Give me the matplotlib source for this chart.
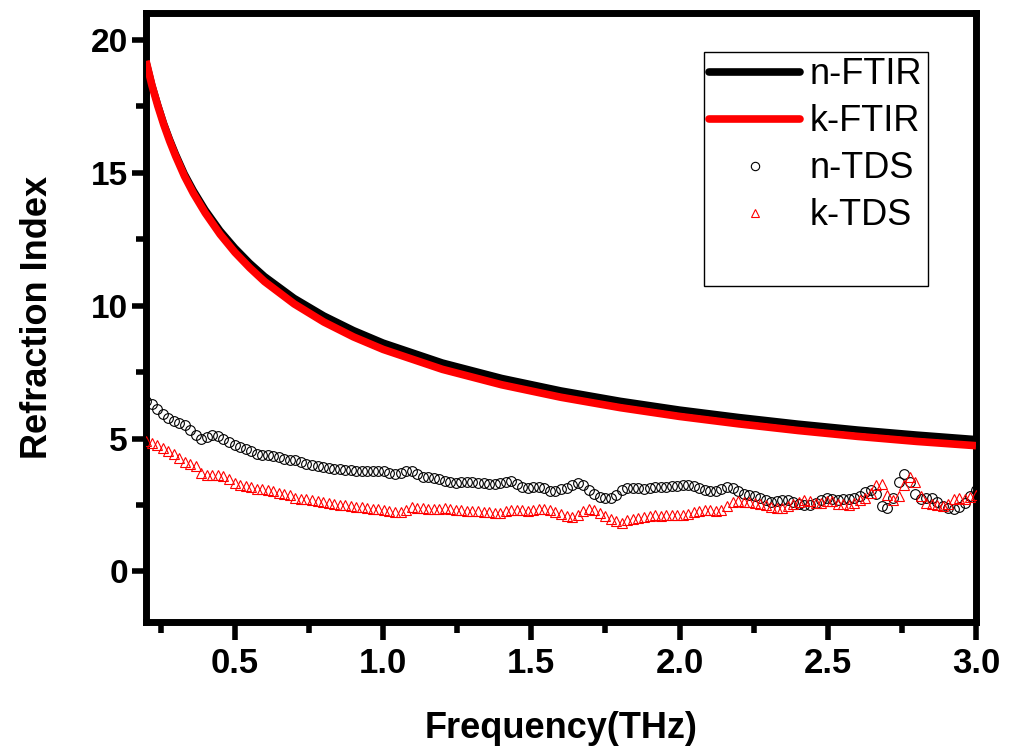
import numpy as np
import matplotlib
matplotlib.use("Agg")
import matplotlib.pyplot as plt
from matplotlib.lines import Line2D

plt.rcParams['font.family'] = ['Liberation Sans', 'DejaVu Sans']

# FTIR-derived optical constants (smooth curves)
ftir_freq = [0.20, 0.22, 0.24, 0.26, 0.28, 0.30, 0.33, 0.36, 0.40, 0.45, 0.50,
             0.55, 0.60, 0.70, 0.80, 0.90, 1.00, 1.20, 1.40, 1.60, 1.80, 2.00,
             2.20, 2.40, 2.60, 2.80, 3.00]
n_ftir = [19.20, 18.30, 17.55, 16.85, 16.25, 15.70, 14.95, 14.33, 13.60, 12.82,
          12.17, 11.60, 11.10, 10.28, 9.62, 9.07, 8.60, 7.85, 7.27, 6.80, 6.41,
          6.08, 5.80, 5.55, 5.33, 5.14, 4.97]
k_ftir = [19.20, 18.28, 17.50, 16.80, 16.18, 15.62, 14.86, 14.22, 13.48, 12.68,
          12.00, 11.42, 10.90, 10.06, 9.38, 8.82, 8.35, 7.60, 7.02, 6.55, 6.16,
          5.83, 5.55, 5.30, 5.08, 4.89, 4.73]

# THz-TDS measurement: 151 samples, 0.2 - 3.0 THz
tds_start, tds_stop, tds_count = 0.2, 3.0, 151
n_tds = [
    6.42, 6.28, 6.12, 5.92, 5.78, 5.66, 5.58, 5.50, 5.33, 5.12,
    4.99, 5.06, 5.14, 5.09, 4.97, 4.86, 4.74, 4.67, 4.60, 4.52,
    4.42, 4.39, 4.39, 4.34, 4.30, 4.24, 4.21, 4.18, 4.12, 4.05,
    4.00, 3.96, 3.93, 3.90, 3.87, 3.85, 3.83, 3.81, 3.78, 3.78,
    3.78, 3.79, 3.79, 3.77, 3.70, 3.67, 3.70, 3.77, 3.76, 3.66,
    3.54, 3.55, 3.51, 3.47, 3.41, 3.35, 3.33, 3.35, 3.37, 3.37,
    3.33, 3.31, 3.30, 3.30, 3.31, 3.37, 3.40, 3.28, 3.18, 3.14,
    3.17, 3.18, 3.12, 3.04, 3.03, 3.10, 3.14, 3.25, 3.33, 3.25,
    3.07, 2.90, 2.81, 2.75, 2.76, 2.88, 3.05, 3.13, 3.14, 3.13,
    3.11, 3.14, 3.17, 3.18, 3.18, 3.20, 3.23, 3.26, 3.26, 3.20,
    3.14, 3.08, 3.03, 3.04, 3.09, 3.16, 3.13, 3.02, 2.92, 2.88,
    2.84, 2.78, 2.69, 2.63, 2.64, 2.69, 2.69, 2.63, 2.55, 2.49,
    2.49, 2.57, 2.69, 2.76, 2.72, 2.69, 2.71, 2.73, 2.77, 2.82,
    2.99, 3.08, 2.90, 2.46, 2.39, 2.75, 3.35, 3.67, 3.35, 2.90,
    2.71, 2.76, 2.77, 2.60, 2.48, 2.39, 2.36, 2.42, 2.56, 2.83,
    3.05]
k_tds = [
    4.92, 4.82, 4.77, 4.66, 4.54, 4.42, 4.28, 4.11, 4.04, 3.98,
    3.72, 3.63, 3.63, 3.63, 3.60, 3.46, 3.34, 3.25, 3.21, 3.17,
    3.10, 3.10, 3.07, 3.02, 2.96, 2.91, 2.86, 2.78, 2.73, 2.72,
    2.69, 2.65, 2.60, 2.56, 2.53, 2.50, 2.50, 2.48, 2.44, 2.41,
    2.38, 2.35, 2.35, 2.32, 2.27, 2.22, 2.23, 2.32, 2.42, 2.40,
    2.39, 2.35, 2.35, 2.35, 2.37, 2.35, 2.31, 2.31, 2.28, 2.28,
    2.26, 2.24, 2.23, 2.20, 2.20, 2.28, 2.33, 2.33, 2.30, 2.28,
    2.31, 2.34, 2.35, 2.30, 2.22, 2.15, 2.10, 2.06, 2.13, 2.28,
    2.35, 2.30, 2.18, 2.08, 1.97, 1.88, 1.83, 1.92, 1.98, 2.02,
    2.06, 2.09, 2.12, 2.10, 2.11, 2.13, 2.13, 2.13, 2.17, 2.22,
    2.28, 2.31, 2.30, 2.26, 2.32, 2.47, 2.60, 2.65, 2.62, 2.62,
    2.58, 2.55, 2.50, 2.44, 2.37, 2.38, 2.45, 2.53, 2.60, 2.67,
    2.66, 2.58, 2.58, 2.66, 2.65, 2.54, 2.53, 2.50, 2.56, 2.69,
    2.76, 2.95, 3.27, 3.28, 2.88, 2.70, 2.85, 3.25, 3.55, 3.35,
    2.85, 2.58, 2.52, 2.50, 2.47, 2.55, 2.72, 2.76, 2.74, 2.79,
    2.88]
tds_freq = np.linspace(tds_start, tds_stop, tds_count)

series_labels = ["n-FTIR", "k-FTIR", "n-TDS", "k-TDS"]

fig = plt.figure(figsize=(10.09, 7.51), dpi=100)
ax = fig.add_axes([146 / 1009, 1 - 622 / 751, 830 / 1009, 609 / 751])

ax.plot(ftir_freq, n_ftir, color="black", lw=5.0, solid_capstyle="butt", zorder=3)
ax.plot(ftir_freq, k_ftir, color="red", lw=5.5, solid_capstyle="butt", zorder=4)
ax.plot(tds_freq, n_tds, ls="none", marker="o", ms=7.0, mfc="none",
        mec="black", mew=0.8, zorder=5)
ax.plot(tds_freq, k_tds, ls="none", marker="^", ms=7.5, mfc="none",
        mec="red", mew=0.8, zorder=5)

ax.set_xlim(0.2, 3.0)
ax.set_ylim(-1.9, 21.0)
ax.set_xticks([0.5, 1.0, 1.5, 2.0, 2.5, 3.0])
ax.set_xticks(np.arange(0.25, 3.01, 0.25), minor=True)
ax.set_yticks([0, 5, 10, 15, 20])
ax.set_yticks([2.5, 7.5, 12.5, 17.5], minor=True)

for s in ax.spines.values():
    s.set_linewidth(5.0)
ax.tick_params(axis="x", which="major", direction="out", length=13, width=4.0, pad=5)
ax.tick_params(axis="x", which="minor", direction="out", length=8, width=4.0)
ax.tick_params(axis="y", which="major", direction="out", length=10, width=4.0, pad=3)
ax.tick_params(axis="y", which="minor", direction="out", length=7, width=4.0)
ax.tick_params(top=False, right=False, which="both")

for lab in ax.get_xticklabels():
    lab.set_fontsize(25)
    lab.set_fontweight("bold")
for lab in ax.get_yticklabels():
    lab.set_fontsize(24)
    lab.set_fontweight("bold")

ax.set_xlabel("Frequency(THz)", fontsize=26, fontweight="bold", labelpad=22)
ax.set_ylabel("Refraction Index", fontsize=26, fontweight="bold", labelpad=26)

handles = [
    Line2D([], [], color="black", lw=5.5, solid_capstyle="round"),
    Line2D([], [], color="red", lw=5.5, solid_capstyle="round"),
    Line2D([], [], ls="none", marker="o", ms=6.0, mfc="none", mec="black", mew=0.8),
    Line2D([], [], ls="none", marker="^", ms=6.0, mfc="none", mec="red", mew=0.8),
    Line2D([], [], ls="none"),
]
leg = fig.legend(handles, series_labels + [" "], loc="upper left",
                 bbox_to_anchor=(704 / 1009, 1 - 52 / 751),
                 bbox_transform=fig.transFigure, borderaxespad=0,
                 fontsize=26, handlelength=2.5, handletextpad=0.28,
                 borderpad=0.15, labelspacing=0.33, fancybox=False,
                 framealpha=1, edgecolor="black")
leg.get_frame().set_linewidth(1.0)

fig.savefig("out.png", dpi=100)
